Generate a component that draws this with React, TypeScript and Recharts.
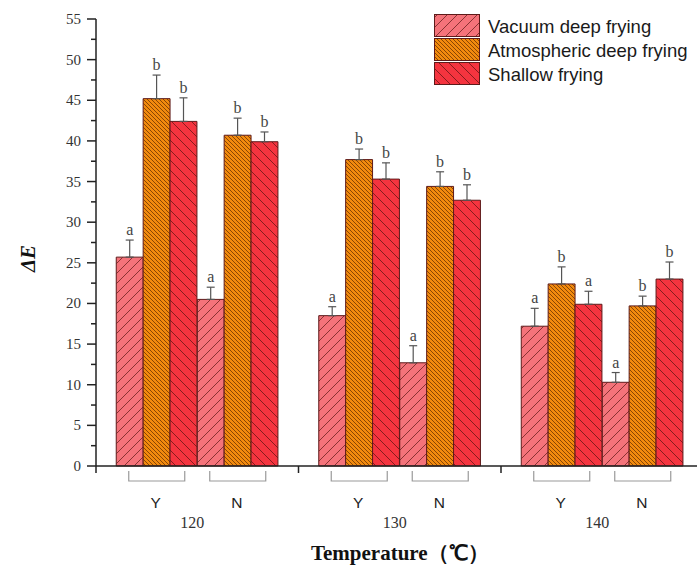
import React from 'react';
import { BarChart, Bar, XAxis, YAxis, ErrorBar, LabelList, Legend } from 'recharts';

const temperatures = ['120', '130', '140'];
const conditions = ['Y', 'N'];
const seriesNames = ['Vacuum deep frying', 'Atmospheric deep frying', 'Shallow frying'];

// order: 120Y, 120N, 130Y, 130N, 140Y, 140N
const vacuum = [25.7, 20.5, 18.5, 12.7, 17.2, 10.3];
const vacuumErr = [2.1, 1.5, 1.1, 2.1, 2.2, 1.2];
const vacuumSig = ['a', 'a', 'a', 'a', 'a', 'a'];

const atmospheric = [45.2, 40.7, 37.7, 34.4, 22.4, 19.7];
const atmosphericErr = [2.9, 2.1, 1.3, 1.8, 2.1, 1.2];
const atmosphericSig = ['b', 'b', 'b', 'b', 'b', 'b'];

const shallow = [42.4, 39.9, 35.3, 32.7, 19.9, 23.0];
const shallowErr = [2.9, 1.2, 2.0, 1.9, 1.6, 2.1];
const shallowSig = ['b', 'b', 'b', 'b', 'a', 'b'];

const yMajorTicks = [0, 5, 10, 15, 20, 25, 30, 35, 40, 45, 50, 55];

// layout: each condition is one unit on the x scale, half a unit gap between temperatures
const GROUP_STEP = conditions.length + 0.5;
const SERIF = '"Liberation Serif", "Times New Roman", serif';
const SANS = '"Liberation Sans", Arial, sans-serif';

const rows = temperatures.flatMap((t, ti) =>
  conditions.map((c, ci) => {
    const i = ti * conditions.length + ci;
    return {
      pos: ti * GROUP_STEP + ci,
      vacuum: vacuum[i],
      vacuumErr: [0, vacuumErr[i]],
      atmospheric: atmospheric[i],
      atmosphericErr: [0, atmosphericErr[i]],
      shallow: shallow[i],
      shallowErr: [0, shallowErr[i]],
    };
  })
);

type XTick = { pos: number; kind: 'sub' | 'temp' | 'sep'; label: string };
const xTickInfo: XTick[] = [
  ...temperatures.map((t, ti) => ({ pos: ti * GROUP_STEP - 0.75, kind: 'sep' as const, label: '' })),
  ...temperatures.flatMap((t, ti) =>
    conditions.map((c, ci) => ({ pos: ti * GROUP_STEP + ci, kind: 'sub' as const, label: c }))
  ),
  ...temperatures.map((t, ti) => ({ pos: ti * GROUP_STEP + 0.5, kind: 'temp' as const, label: t })),
];
const xTicks = xTickInfo.map(t => t.pos).sort((a, b) => a - b);

const yTicks = yMajorTicks.flatMap((v, i) => (i === 0 ? [v] : [v - 2.5, v]));

const patternIds = ['hatchVacuum', 'hatchAtmos', 'hatchShallow'];

const YTick = (props: any) => {
  const { x, y, payload } = props;
  const major = payload.value % 5 === 0;
  return (
    <g>
      <line x1={x} x2={x - (major ? 9 : 5)} y1={y} y2={y} stroke="#222" strokeWidth={1.5} />
      {major && (
        <text x={x - 15} y={y + 5} textAnchor="end" fontFamily={SERIF} fontSize={15} fill="#333">
          {payload.value}
        </text>
      )}
    </g>
  );
};

const XTickMark = (props: any) => {
  const { x, y, payload } = props;
  const info = xTickInfo.find(t => Math.abs(t.pos - payload.value) < 1e-6);
  if (!info) return null;
  if (info.kind === 'sep') {
    return <line x1={x} x2={x} y1={y} y2={y + 7} stroke="#222" strokeWidth={1.5} />;
  }
  if (info.kind === 'sub') {
    return (
      <g>
        <path
          d={`M${x - 28},${y + 5} L${x - 28},${y + 15} L${x + 28},${y + 15} L${x + 28},${y + 5}`}
          fill="none"
          stroke="#9a9a9a"
          strokeWidth={1.2}
        />
        <text x={x - 1} y={y + 42} textAnchor="middle" fontFamily={SANS} fontSize={15.5} fill="#222">
          {info.label}
        </text>
      </g>
    );
  }
  return (
    <text x={x - 5} y={y + 62} textAnchor="middle" fontFamily={SERIF} fontSize={16} fill="#333">
      {info.label}
    </text>
  );
};

const makeSigLabel = (sig: string[], err: number[], vals: number[]) => (props: any) => {
  const vb = props.viewBox ?? props;
  const { x, y, width, height } = vb;
  const index = props.index;
  if (index == null || x == null || !vals[index]) return null;
  const k = height / vals[index];
  const top = y - err[index] * k;
  return (
    <text x={x + width / 2} y={top - 5} textAnchor="middle" fontFamily={SERIF} fontSize={16} fill="#444">
      {sig[index]}
    </text>
  );
};

const LegendBox = (props: any) => {
  const payload = [...(props.payload || [])].sort(
    (a: any, b: any) => seriesNames.indexOf(a.value) - seriesNames.indexOf(b.value)
  );
  return (
    <svg width={265} height={90}>
      {payload.map((entry: any) => {
        const i = seriesNames.indexOf(entry.value);
        return (
          <g key={entry.value}>
            <rect
              x={0.5}
              y={6.5 + i * 24}
              width={45}
              height={22}
              fill={`url(#${patternIds[i]})`}
              stroke="#5e1a1a"
              strokeWidth={1}
            />
            <text x={54} y={25 + i * 24} fontFamily={SANS} fontSize={18.5} fill="#1a1a1a">
              {entry.value}
            </text>
          </g>
        );
      })}
    </svg>
  );
};

export default function App() {
  return (
    <div style={{ position: 'absolute', left: 0, top: 0, width: 697, height: 567, overflow: 'hidden', background: '#fff' }}>
      <BarChart
        width={708}
        height={567}
        data={rows}
        margin={{ top: 19, right: 4.5, left: 0, bottom: 0 }}
        barGap={0}
      >
        <defs>
          <pattern id="hatchVacuum" patternUnits="userSpaceOnUse" width={10} height={10}>
            <rect width={10} height={10} fill="#F4737A" />
            <path d="M-1,1 L1,-1 M0,10 L10,0 M9,11 L11,9" stroke="#7d2b2b" strokeWidth={0.9} />
          </pattern>
          <pattern id="hatchAtmos" patternUnits="userSpaceOnUse" width={4} height={4}>
            <rect width={4} height={4} fill="#F28A0E" />
            <path d="M-1,3 L1,5 M0,0 L4,4 M3,-1 L5,1" stroke="#6e3500" strokeWidth={0.8} />
          </pattern>
          <pattern id="hatchShallow" patternUnits="userSpaceOnUse" width={10} height={10}>
            <rect width={10} height={10} fill="#F5343F" />
            <path d="M-1,9 L1,11 M0,0 L10,10 M9,-1 L11,1" stroke="#7a1b1b" strokeWidth={0.9} />
          </pattern>
        </defs>
        <XAxis
          dataKey="pos"
          type="number"
          domain={[-0.75, 6.75]}
          ticks={xTicks}
          interval={0}
          height={101}
          axisLine={{ stroke: '#222', strokeWidth: 1.5 }}
          tickLine={false}
          tickSize={0}
          tickMargin={0}
          tick={<XTickMark />}
          label={{
            content: (p: any) => {
              const vb = p.viewBox;
              return (
                <text
                  x={vb.x + vb.width / 2}
                  y={vb.y + 94}
                  textAnchor="middle"
                  fontFamily={SERIF}
                  fontWeight="bold"
                  fontSize={21}
                  fill="#111"
                >
                  Temperature（℃）
                </text>
              );
            },
          }}
        />
        <YAxis
          type="number"
          domain={[0, 55]}
          ticks={yTicks}
          interval={0}
          width={96}
          axisLine={{ stroke: '#222', strokeWidth: 1.5 }}
          tickLine={false}
          tickSize={0}
          tickMargin={0}
          tick={<YTick />}
          label={{
            content: (p: any) => {
              const vb = p.viewBox;
              const cx = 28;
              const cy = vb.y + vb.height / 2 + 16;
              return (
                <text
                  x={cx}
                  y={cy}
                  transform={`rotate(-90, ${cx}, ${cy})`}
                  textAnchor="middle"
                  dominantBaseline="central"
                  fontFamily={SERIF}
                  fontWeight="bold"
                  fontStyle="italic"
                  fontSize={21}
                  fill="#111"
                >
                  ΔE
                </text>
              );
            },
          }}
        />
        <Legend
          layout="vertical"
          align="center"
          verticalAlign="middle"
          wrapperStyle={{ left: 434, top: 8, width: 265 }}
          content={<LegendBox />}
        />
        <Bar dataKey="vacuum" name={seriesNames[0]} fill="url(#hatchVacuum)" stroke="#5e1a1a" strokeWidth={1} barSize={26.9} isAnimationActive={false}>
          <ErrorBar dataKey="vacuumErr" width={4} stroke="#555" strokeWidth={1.2} direction="y" isAnimationActive={false} />
          <LabelList dataKey="vacuum" content={makeSigLabel(vacuumSig, vacuumErr, vacuum)} />
        </Bar>
        <Bar dataKey="atmospheric" name={seriesNames[1]} fill="url(#hatchAtmos)" stroke="#5e1a1a" strokeWidth={1} barSize={26.9} isAnimationActive={false}>
          <ErrorBar dataKey="atmosphericErr" width={4} stroke="#555" strokeWidth={1.2} direction="y" isAnimationActive={false} />
          <LabelList dataKey="atmospheric" content={makeSigLabel(atmosphericSig, atmosphericErr, atmospheric)} />
        </Bar>
        <Bar dataKey="shallow" name={seriesNames[2]} fill="url(#hatchShallow)" stroke="#5e1a1a" strokeWidth={1} barSize={26.9} isAnimationActive={false}>
          <ErrorBar dataKey="shallowErr" width={4} stroke="#555" strokeWidth={1.2} direction="y" isAnimationActive={false} />
          <LabelList dataKey="shallow" content={makeSigLabel(shallowSig, shallowErr, shallow)} />
        </Bar>
      </BarChart>
    </div>
  );
}
